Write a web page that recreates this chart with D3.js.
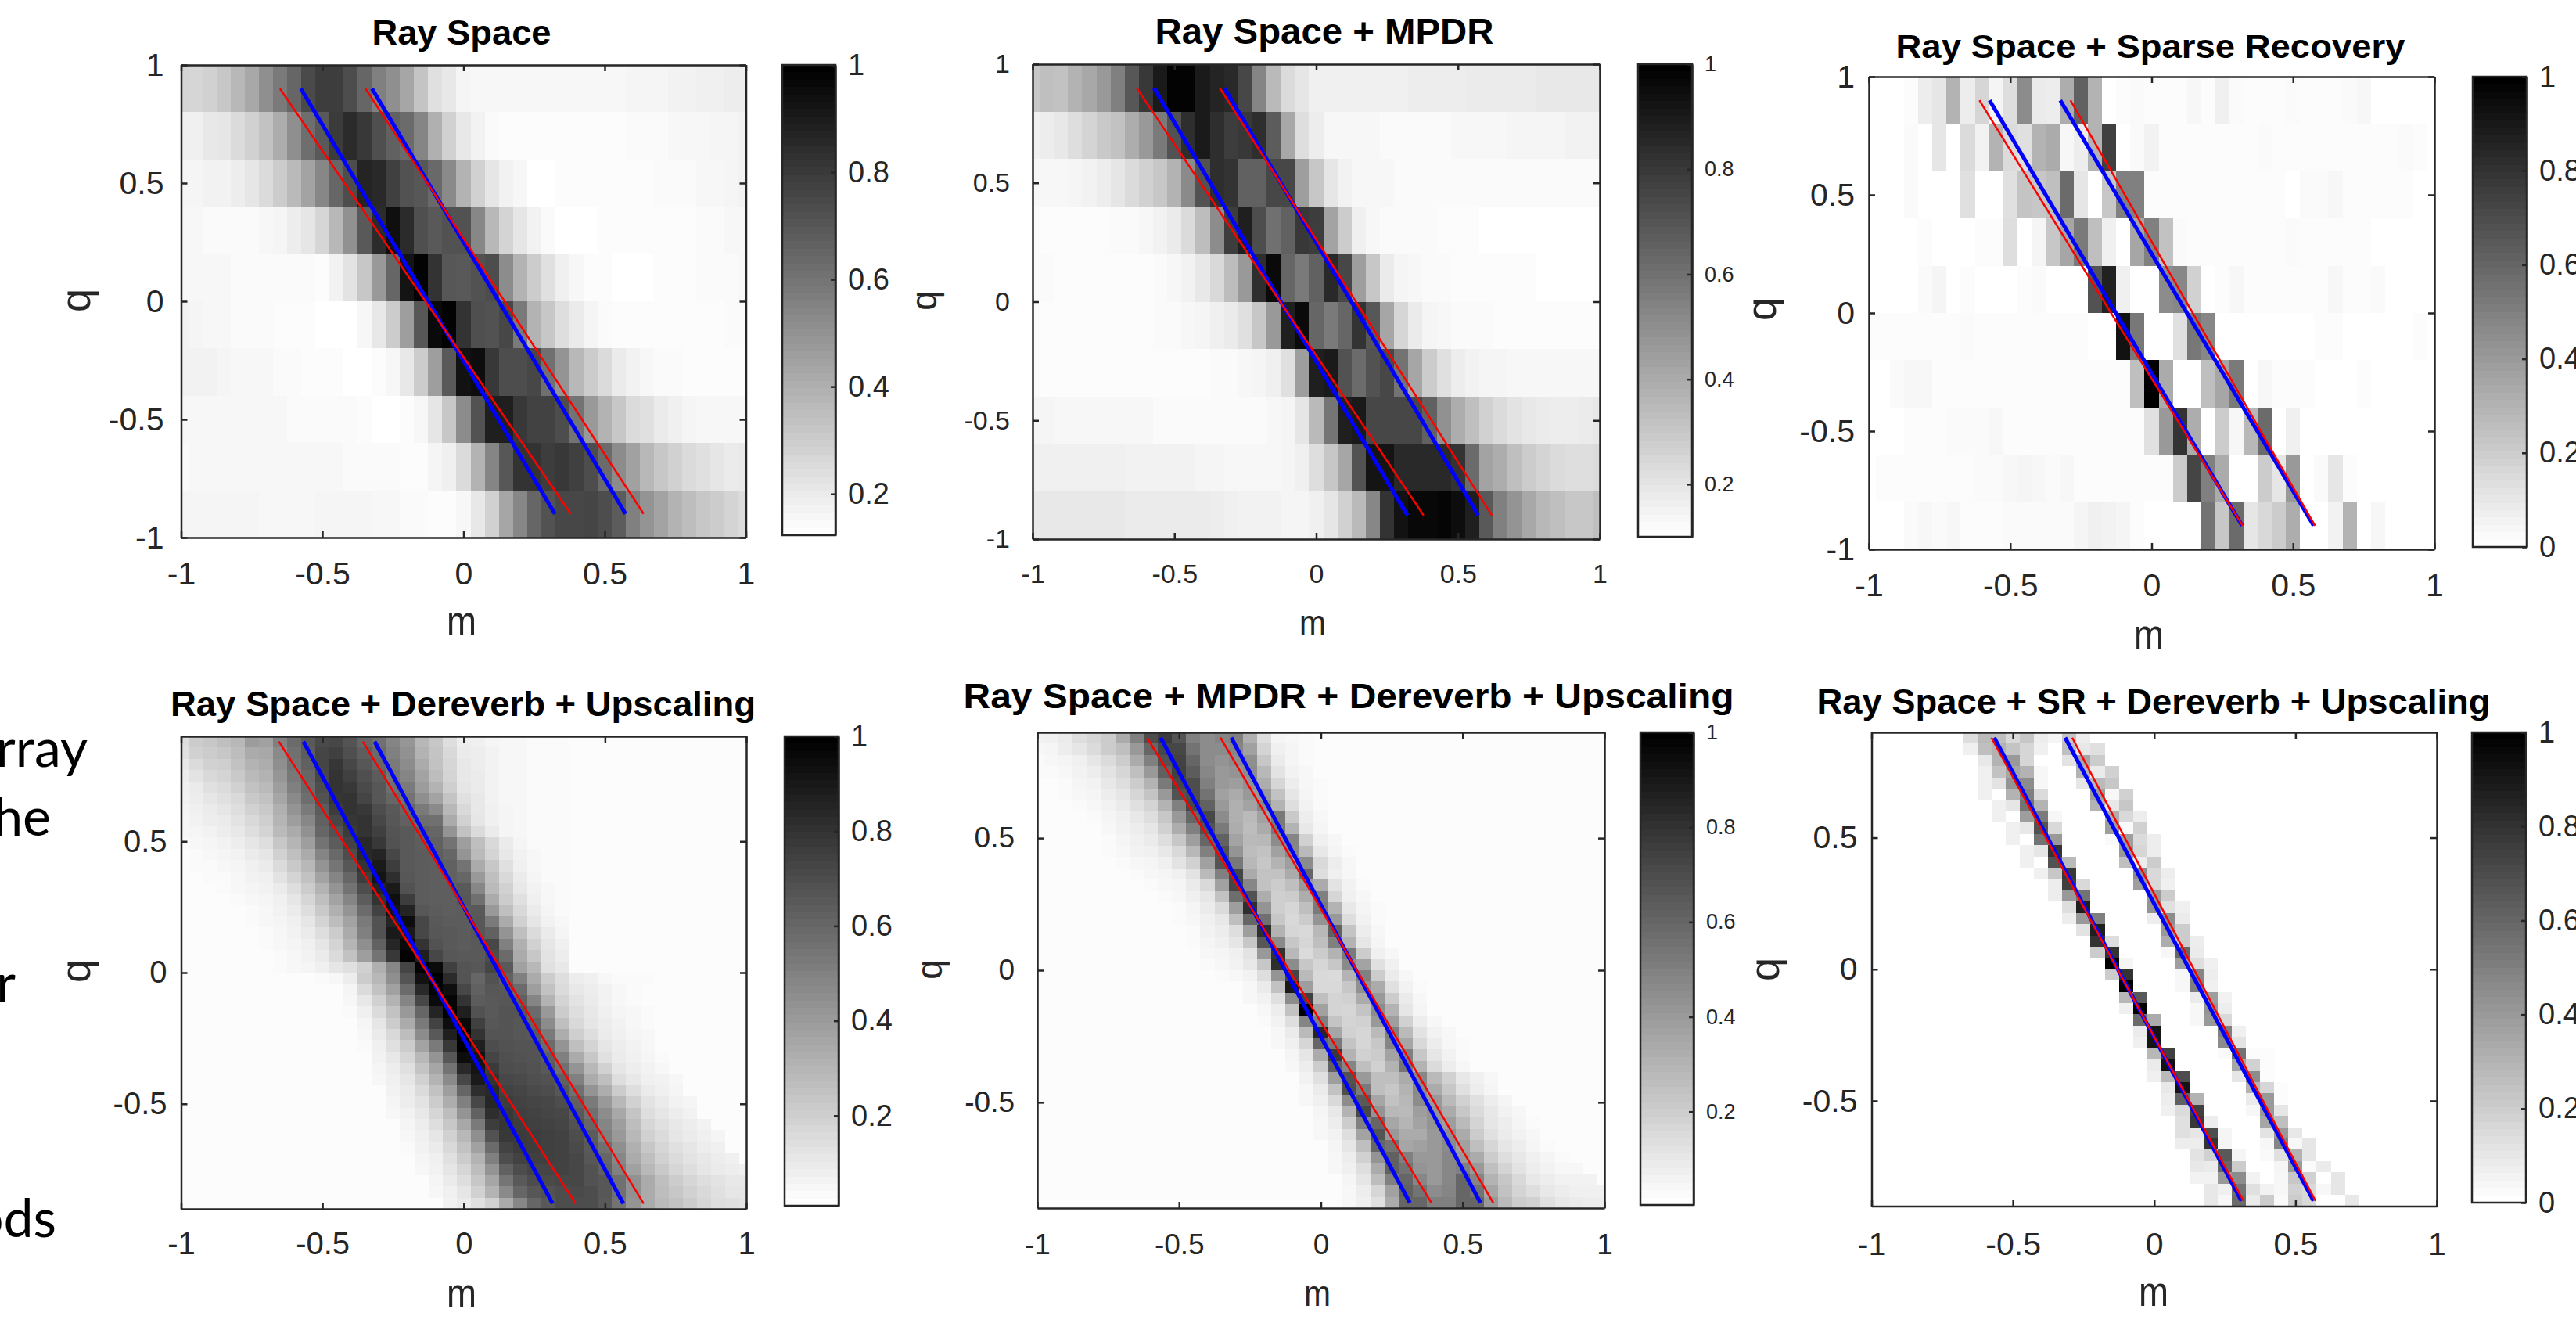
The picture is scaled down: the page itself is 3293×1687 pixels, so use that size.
<!doctype html>
<html lang="en">

<head>
    <meta charset="utf-8">
    <title>Ray space comparison</title>
    <script src="https://cdn.jsdelivr.net/npm/d3@7"></script>
    <style>
        html, body { margin: 0; padding: 0; background: #fff; }
        svg { display: block; }
        text { font-family: "Liberation Sans", Arial, sans-serif; fill: #262626; }
        .title { font-weight: bold; fill: #000; }
        .slide { font-family: Lato, "Open Sans", sans-serif; fill: #000; }
    </style>
</head>

<body>
    <svg></svg>

    <script>
        // every number below is a grey level:
        // 0 = bottom of that panel's colorbar, 100 = top of it
        var raySpace = [
            [17,16,18,22,28,34,44,52,60,71,76,76,70,60,50,44,35,23,12,9,4,3,3,3,3,3,3,3,3,3,3,3,4,4,4,5,5,6,6,7,7],
            [6,6,9,10,14,18,24,32,44,57,65,77,83,78,69,62,58,48,31,18,9,5,2,1,1,1,1,1,1,1,1,1,2,2,2,3,3,3,4,4,5],
            [4,4,5,5,7,10,14,20,27,36,47,60,70,86,84,75,68,66,59,46,30,18,10,5,3,0,0,1,1,1,1,1,1,1,2,2,2,3,3,4,5],
            [3,3,2,2,2,2,3,4,7,10,16,28,43,65,83,94,83,69,65,68,68,47,28,17,10,5,2,0,0,0,1,1,1,1,1,1,1,2,2,3,3],
            [3,3,3,3,2,2,2,2,2,2,1,5,11,22,40,60,92,99,80,66,65,68,70,45,30,20,12,6,3,1,1,0,0,0,1,1,1,2,2,2,3],
            [5,4,3,3,2,2,2,1,1,1,0,0,0,3,9,20,38,66,96,99,80,69,68,72,52,30,22,13,8,4,2,1,1,1,1,1,1,1,1,2,2],
            [5,5,5,4,3,3,3,2,2,1,1,1,0,0,1,3,9,20,38,65,93,95,78,70,70,72,56,42,28,20,14,8,5,3,2,2,1,1,1,1,1],
            [3,3,3,3,3,3,3,3,2,2,2,2,2,1,0,0,1,3,10,22,45,68,88,88,78,74,74,70,55,40,30,22,14,12,8,6,4,3,3,3,3],
            [2,3,3,3,3,3,3,3,3,3,3,3,2,2,2,2,1,1,4,6,14,30,48,66,80,80,76,78,75,70,58,45,37,28,22,18,14,12,10,8,9],
            [4,4,4,4,4,4,3,3,3,3,4,4,4,4,3,3,2,2,1,1,3,9,18,35,47,60,68,72,72,73,70,64,50,42,36,30,26,22,20,17,14]
        ];

        var mpdr = [
            [22,25,24,30,34,40,50,66,78,90,99,99,90,86,84,72,48,27,14,10,6,6,6,6,6,6,6,7,7,7,7,8,8,8,8,8,9,9,9,9,9],
            [6,7,9,13,17,21,24,32,40,52,68,82,90,82,76,78,82,64,34,13,7,3,3,3,3,2,2,2,2,2,3,3,3,3,4,4,4,4,5,5,5],
            [3,3,3,4,5,7,10,14,18,22,30,46,68,82,80,62,62,72,72,38,22,10,5,3,3,3,2,2,2,2,2,2,2,2,2,2,2,2,2,2,2],
            [2,1,1,1,1,1,2,2,3,5,8,14,26,45,76,88,70,56,62,78,76,36,20,6,3,2,2,2,2,1,1,1,0,0,0,0,0,0,0,0,0],
            [2,2,1,1,1,1,1,1,1,2,3,5,9,15,26,40,82,96,60,52,62,84,72,38,22,8,4,3,2,2,1,1,1,1,1,1,0,0,0,0,0],
            [2,1,1,1,1,1,1,1,1,2,2,3,4,6,8,12,22,40,88,96,60,52,60,80,66,35,16,8,4,3,2,2,2,1,1,1,1,1,1,1,1],
            [2,1,1,1,1,1,1,1,1,1,1,1,1,2,2,3,4,6,12,38,88,90,68,58,68,72,55,35,20,12,7,5,4,4,3,3,3,3,3,3,3],
            [4,4,3,3,3,3,3,3,3,2,2,2,2,2,2,2,2,3,4,10,27,54,88,90,72,72,72,72,62,43,32,25,18,14,11,9,8,7,7,8,9],
            [6,6,6,6,6,6,6,5,5,5,5,5,4,4,3,3,3,3,4,6,13,22,35,68,92,92,84,84,84,84,80,58,36,32,25,20,17,14,13,13,14],
            [9,9,9,9,9,9,9,8,8,8,8,8,8,7,6,5,5,5,4,4,6,10,18,27,47,80,93,97,97,98,95,88,65,50,42,34,28,25,22,22,25]
        ];

        var sparseRecovery = [
            [0,0,0,1,7,10,30,7,16,4,13,45,8,7,32,62,30,0,1,2,1,1,1,3,1,6,2,1,1,1,2,1,1,1,2,3,0,0,0,0,0],
            [0,0,0,2,0,10,0,14,5,30,14,12,30,33,3,7,30,75,0,2,5,1,1,1,1,1,1,1,2,1,1,1,1,1,1,1,1,1,2,1,0],
            [0,0,0,2,0,0,0,12,0,0,12,23,22,25,58,10,0,22,50,50,1,1,1,1,1,1,1,1,1,1,0,2,2,3,1,1,1,1,1,0,0],
            [0,0,0,0,1,0,0,0,1,1,13,0,4,22,35,52,25,6,0,35,50,24,2,1,1,1,1,1,1,1,2,1,1,1,1,1,0,0,0,0,0],
            [0,0,0,0,2,4,0,1,0,0,0,1,2,0,0,0,68,87,6,0,0,45,47,18,0,1,3,1,1,1,1,1,1,3,1,1,2,0,0,0,0],
            [1,1,1,1,1,1,1,2,1,1,1,1,1,1,1,1,0,0,93,53,0,0,12,53,47,0,0,0,0,0,0,0,1,1,0,0,0,0,0,1,0],
            [0,0,2,3,3,1,1,1,1,1,1,1,1,1,1,1,1,1,1,25,100,33,0,0,25,35,52,0,3,1,1,1,0,0,0,1,0,0,0,0,0],
            [0,0,0,1,1,1,2,2,2,3,1,1,1,1,1,1,1,1,1,1,12,40,80,32,0,20,3,28,58,0,6,0,0,0,0,0,0,0,0,0,0],
            [0,1,1,1,1,1,1,1,2,2,3,4,3,2,3,1,1,1,1,1,1,1,20,73,50,33,0,0,20,10,40,0,2,10,1,0,0,0,0,0,0],
            [0,0,0,2,3,2,3,1,1,1,2,2,2,2,2,4,6,5,4,1,0,0,0,0,55,22,58,10,15,20,32,0,0,5,30,0,3,0,0,0,0]
        ];

        // upscaled panels: [first column, levels from that column on], the rest of the row is background
        var dereverb = [
            [0,[13,20,22,25,28,39,37,50,58,65,71,72,67,60,56,48,41,28,22,13,7,6,4,3,3,2,2,2]],
            [0,[12,18,20,22,26,33,34,46,56,64,73,75,69,63,58,50,43,30,23,15,8,7,5,3,3,2,2,2]],
            [0,[9,14,18,19,24,30,32,44,55,62,73,79,72,66,60,52,45,33,24,16,9,7,5,3,3,2,2,2]],
            [0,[7,11,15,17,21,27,30,41,53,60,72,80,75,69,64,54,48,36,26,17,9,8,5,3,3,2,2,2]],
            [0,[6,8,12,14,18,24,27,38,50,59,70,80,78,71,66,57,52,39,30,19,10,8,5,3,3,2,2,2]],
            [0,[5,7,10,12,15,21,24,35,46,57,68,79,80,73,66,60,55,44,36,23,12,9,5,3,3,2,2,2]],
            [0,[4,6,8,10,13,18,21,31,42,52,64,76,80,78,70,65,60,52,46,28,15,9,6,4,3,2,2,2]],
            [0,[3,5,7,8,11,15,19,29,38,47,62,72,79,80,72,66,62,57,56,33,18,10,6,4,3,2,2,2]],
            [0,[3,4,5,7,9,13,17,27,33,43,60,68,77,80,75,67,65,62,60,42,24,14,8,4,3,2,2,2]],
            [0,[2,3,4,5,7,10,13,22,29,38,55,64,74,84,78,68,65,63,62,55,38,25,15,8,4,2,2,2]],
            [0,[1,2,3,4,5,8,10,18,25,33,48,59,70,84,86,72,65,64,63,60,42,27,17,9,5,3,2,2]],
            [0,[1,2,2,3,4,6,8,14,21,28,42,54,66,80,90,76,65,64,63,62,55,33,22,12,6,3,2,2]],
            [0,[1,1,2,2,3,5,6,11,17,24,36,48,60,76,92,82,66,64,63,62,60,40,25,15,8,4,2,2]],
            [0,[1,1,1,2,3,4,5,8,13,20,30,42,55,70,86,90,68,64,63,63,65,47,27,18,9,5,3,2]],
            [0,[1,1,1,1,2,3,4,6,10,16,25,36,48,64,80,94,76,64,63,63,66,56,33,20,12,6,3,2]],
            [0,[1,1,1,1,1,2,3,5,8,13,21,31,42,58,74,92,86,66,64,63,64,65,40,25,15,8,4,2]],
            [0,[1,1,1,1,1,2,3,4,6,10,17,26,36,52,68,86,95,72,65,64,64,66,52,33,18,10,5,3]],
            [0,[1,1,1,1,1,1,2,3,5,8,13,20,33,50,68,90,90,72,66,65,64,66,62,42,25,14,8,4]],
            [0,[1,1,1,1,1,1,2,3,4,6,10,17,29,44,62,85,96,80,68,65,64,65,72,50,31,18,10,6]],
            [0,[1,1,1,1,1,1,1,2,3,5,8,14,24,38,55,78,99,88,72,66,65,65,70,58,33,22,11,7]],
            [0,[1,1,1,1,1,1,1,2,3,4,6,10,12,18,31,47,73,100,96,75,67,66,73,65,37,28,12,9]],
            [9,[1,2,3,7,20,28,44,67,93,100,83,67,60,68,62,50,33,20,13,7,6,3,2,2,2]],
            [12,[4,14,24,37,58,84,99,94,72,62,66,65,58,38,24,14,9,7,5,3,2]],
            [12,[3,9,18,30,48,72,96,98,80,64,65,66,62,48,30,17,11,8,5,3,2]],
            [12,[2,6,14,24,40,60,86,100,88,68,65,67,67,58,40,20,13,9,6,4,3,2]],
            [13,[4,10,20,33,52,74,95,96,75,66,67,66,62,45,25,15,10,7,5,3,2]],
            [13,[3,8,15,26,45,65,88,99,80,67,67,66,65,52,32,19,13,8,6,4,3]],
            [13,[2,6,12,20,36,52,78,100,88,70,68,67,67,58,42,25,17,10,7,5,3]],
            [14,[5,9,16,28,42,66,95,92,73,69,68,67,63,50,33,22,12,8,6,4,2]],
            [14,[4,7,12,23,35,55,84,92,77,70,69,68,65,56,42,28,18,10,7,5,3]],
            [14,[3,6,10,18,30,46,72,90,80,72,71,69,68,62,50,33,25,13,9,6,5,3]],
            [15,[5,8,14,24,38,60,82,84,74,73,71,70,66,56,42,32,20,13,8,6,4]],
            [15,[4,7,11,20,32,50,72,85,76,74,73,72,70,62,52,40,28,18,11,8,5,4]],
            [15,[3,5,9,16,26,42,62,82,78,75,74,73,72,65,56,45,34,23,13,10,7,5]],
            [16,[4,7,13,22,34,52,76,79,76,75,74,73,68,60,48,38,26,16,12,9,7,5]],
            [16,[3,6,10,18,28,44,68,78,77,76,75,74,70,64,50,40,28,18,14,10,8,6,4]],
            [16,[2,5,8,15,24,37,58,74,77,76,75,74,71,65,56,44,31,22,16,12,10,7,6]],
            [17,[4,6,12,20,30,50,70,74,75,75,74,72,66,60,47,33,25,18,14,11,9,7,6]],
            [17,[3,5,10,16,26,42,62,70,73,73,74,72,68,62,50,37,28,21,16,13,10,8,7,6]],
            [18,[4,8,13,22,35,54,65,70,71,72,72,68,66,56,43,33,25,20,16,13,11,9,9]],
            [18,[3,6,10,18,30,46,60,66,68,70,71,70,66,56,43,33,26,22,18,15,12,10,10]],
            [19,[5,8,12,18,33,47,60,65,70,70,70,65,55,42,33,27,24,20,16,13,12,11]]
        ];

        var mpdrDereverb = [
            [0,[5,6,8,13,16,20,33,50,70,77,67,50,45,48,50,31,13,4,3,2]],
            [0,[3,4,7,10,14,20,25,40,60,72,72,55,45,45,48,37,17,6,4,2]],
            [0,[2,3,4,6,10,14,20,33,50,68,74,60,45,42,45,44,22,8,4,2]],
            [0,[2,2,3,5,7,11,16,25,40,62,75,64,47,40,42,45,28,11,5,3]],
            [0,[1,1,2,4,5,9,13,20,30,52,72,70,50,40,38,43,32,16,7,3,2]],
            [0,[1,1,2,3,4,7,10,16,23,40,68,70,55,37,33,40,40,24,10,4,2]],
            [0,[1,1,1,2,3,5,8,12,17,30,50,72,62,40,31,36,46,30,13,5,2]],
            [0,[1,1,1,1,2,4,6,9,13,22,40,60,72,45,31,27,37,53,21,7,3]],
            [0,[1,1,1,1,1,3,5,7,10,18,32,50,68,52,32,26,33,52,30,9,4]],
            [0,[1,1,1,1,1,2,4,6,8,13,22,38,60,62,36,27,28,45,48,18,6,3]],
            [0,[1,1,1,1,1,2,3,5,6,9,15,28,50,68,42,26,24,37,47,27,9,4,2]],
            [0,[1,1,1,1,1,1,2,3,4,6,11,18,37,67,53,28,22,30,38,45,15,7,3]],
            [0,[1,1,1,1,1,1,1,2,3,4,6,11,27,50,73,33,24,24,33,60,13,6,3]],
            [8,[2,3,4,8,15,37,73,47,24,20,25,40,33,11,5,2]],
            [9,[2,3,6,10,24,57,68,32,19,20,32,50,16,6,3]],
            [10,[2,4,8,14,38,82,42,19,16,25,52,30,9,4,2]],
            [10,[2,3,6,9,25,60,56,22,15,20,42,40,13,5,2]],
            [11,[2,5,7,13,38,82,30,16,15,28,62,23,7,3]],
            [11,[2,4,6,10,22,66,46,22,16,25,50,30,10,4]],
            [12,[3,4,6,11,40,80,28,14,20,30,52,20,6,3]],
            [12,[2,3,5,9,22,82,45,22,16,22,46,36,12,6]],
            [13,[2,3,5,13,42,73,27,15,14,30,50,20,8,3]],
            [15,[3,8,24,90,38,15,15,22,43,33,12,5,2]],
            [15,[3,5,12,45,75,25,17,18,33,40,20,8,3]],
            [16,[3,7,24,100,37,17,16,23,45,30,10,4]],
            [16,[2,5,13,48,50,23,17,18,40,38,18,7,3]],
            [17,[3,8,27,85,35,18,16,27,50,27,11,5,3]],
            [17,[3,6,16,60,52,23,16,22,48,35,15,7,3,2]],
            [18,[4,10,33,78,30,18,20,36,50,22,10,5,2]],
            [18,[3,7,20,62,48,25,18,30,54,30,14,7,3]],
            [19,[5,12,38,68,40,25,25,33,47,27,18,9,6,3]],
            [19,[3,8,24,70,52,25,22,30,46,33,22,12,7,4]],
            [19,[3,6,15,45,65,35,24,28,45,40,27,18,12,7,4]],
            [20,[4,9,30,72,42,28,27,38,42,33,22,14,9,5,3]],
            [20,[3,7,20,50,60,35,29,36,42,38,27,17,10,7,4,2]],
            [20,[3,5,13,36,67,40,33,33,40,44,33,20,12,8,5,3]],
            [21,[4,10,25,60,55,35,37,40,46,37,25,16,10,7,4,2]],
            [21,[3,7,18,42,62,50,40,40,47,40,33,20,13,9,6,4,2]],
            [21,[3,6,13,33,62,55,42,40,47,50,40,25,17,11,7,5,3,3]],
            [22,[4,10,26,50,60,47,40,47,60,48,30,22,15,9,7,5,5,5]],
            [22,[3,7,16,37,62,55,45,48,60,55,35,24,17,13,9,7,6,6,6]],
            [22,[3,6,12,33,60,60,50,50,60,60,40,27,20,18,12,9,8,7,7]]
        ];

        var srDereverb = [
            [7,[13,27,25,15,22,7,4,22,7]],
            [7,[6,25,30,23,16,6,0,25,9,12]],
            [8,[9,30,40,16,0,0,11,35,20]],
            [8,[6,24,35,30,3,0,0,30,8,18]],
            [8,[6,11,42,45,3,0,0,10,27,22]],
            [8,[6,0,30,50,14,0,0,0,38,3,18]],
            [9,[6,10,55,30,0,0,0,30,9,22]],
            [9,[6,0,38,52,3,0,0,0,32,15,7]],
            [10,[6,9,68,15,0,0,0,38,2,18]],
            [10,[6,0,55,40,0,0,0,2,38,14,7]],
            [11,[6,10,80,0,0,0,0,40,16,7]],
            [11,[6,0,68,27,0,0,0,25,7,20]],
            [12,[6,22,78,0,0,0,0,45,15,7]],
            [13,[7,75,15,0,0,0,38,15,6]],
            [13,[7,40,55,0,0,0,0,40,20]],
            [14,[13,88,0,0,0,0,42,12,6]],
            [14,[7,40,50,0,0,0,7,45,8]],
            [15,[11,88,0,0,0,0,40,20]],
            [16,[80,13,0,0,0,32,20,7]],
            [16,[20,80,0,0,0,3,60,8]],
            [17,[100,4,0,0,0,38,13,6]],
            [17,[20,80,0,0,0,3,48,7]],
            [18,[100,0,0,0,3,50,6]],
            [18,[28,65,0,0,0,8,38,5]],
            [18,[6,100,0,0,0,3,42,7]],
            [19,[58,33,0,0,3,40,15]],
            [19,[8,92,0,0,0,0,50,6]],
            [19,[6,92,0,0,0,0,45,11]],
            [20,[28,75,0,0,0,2,55,1,1]],
            [20,[8,93,0,0,0,0,35,18,1]],
            [20,[6,27,70,0,0,0,10,45,1]],
            [21,[9,92,0,0,0,0,30,16,1]],
            [21,[7,62,30,0,0,0,8,40,1]],
            [21,[6,14,75,0,0,0,3,40,10]],
            [22,[12,78,7,0,0,0,35,25]],
            [22,[12,10,70,4,0,0,11,40,9]],
            [22,[7,7,80,4,0,0,3,48,3,10]],
            [23,[11,18,65,4,0,2,12,30,10]],
            [23,[9,8,60,20,0,0,4,40,2,8]],
            [23,[5,5,40,45,5,0,3,22,18,0,10]],
            [24,[9,6,55,12,5,3,18,15,3,10]],
            [24,[9,3,58,8,20,2,20,15,0,0,9]]
        ];

        var titles = [
            'Ray Space', 'Ray Space + MPDR', 'Ray Space + Sparse Recovery',
            'Ray Space + Dereverb + Upscaling', 'Ray Space + MPDR + Dereverb + Upscaling', 'Ray Space + SR + Dereverb + Upscaling'
        ];
        var xTickValues = [-1, -0.5, 0, 0.5, 1];
        var yTickCoarse = [-1, -0.5, 0, 0.5, 1];
        var yTickFine = [-0.5, 0, 0.5];

        // colorbar lower limits and tick labels
        var colorMin = [0.123, 0.1, 0, 0.01, 0.003, 0];
        var barTicksTrim = [0.2, 0.4, 0.6, 0.8, 1];
        var barTicksFull = [0, 0.2, 0.4, 0.6, 0.8, 1];

        // [m at top, m at bottom] of each drawn line
        var blueLines = [
            [[-0.576, 0.324], [-0.324, 0.574]], [[-0.572, 0.322], [-0.324, 0.572]], [[-0.573, 0.32], [-0.323, 0.573]],
            [[-0.567, 0.315], [-0.315, 0.565]], [[-0.565, 0.314], [-0.316, 0.563]], [[-0.566, 0.309], [-0.315, 0.564]]
        ];
        var redLines = [
            [[-0.65, 0.38], [-0.347, 0.638]], [[-0.633, 0.379], [-0.34, 0.62]], [[-0.609, 0.322], [-0.287, 0.578]],
            [[-0.654, 0.396], [-0.357, 0.637]], [[-0.613, 0.39], [-0.354, 0.608]], [[-0.576, 0.316], [-0.29, 0.571]]
        ];
        var lineEndQ = [0.9, 0.9, 0.9, 0.88, 0.88, 0.88];

        var slideLines = [
            { text: 'rray', right: 112, base: 980 },
            { text: 'he', right: 65, base: 1068 },
            { text: 'r', right: 20, base: 1280 },
            { text: 'ods', right: 72, base: 1581 }
        ];

        function expand(rows, fill) {
            return rows.map(function (r) {
                var row = d3.range(41).map(function () { return fill; });
                r[1].forEach(function (v, i) { row[r[0] + i] = v; });
                return row;
            });
        }

        var matrices = [
            raySpace, mpdr, sparseRecovery,
            expand(dereverb, 1), expand(mpdrDereverb, 1), expand(srDereverb, 0)
        ];

        // layout in page pixels, one entry per panel
        var layout = [
            { l: 231.5, r: 953.5, t: 83, b: 687, cbL: 1000, cbR: 1068, cbB: 684, tickFs: 41, cbFs: 38, padX: 31, padY: 22, title: [590, 57, 229, 44], m: [590, 812, 54, 38], q: [115, 384, 54], edgeQ: 1 },
            { l: 1320, r: 2045, t: 82, b: 689, cbL: 2094, cbR: 2163, cbB: 686, tickFs: 34, cbFs: 27, padX: 32, padY: 29, title: [1693, 56, 433, 46], m: [1678, 812, 46, 34], q: [1197, 384, 46], edgeQ: 1 },
            { l: 2389, r: 3112, t: 98, b: 702, cbL: 3161, cbR: 3230, cbB: 699, tickFs: 41, cbFs: 38, padX: 31, padY: 18, title: [2749, 74, 651, 43], m: [2747, 829, 54, 38], q: [2270, 395, 54], edgeQ: 1 },
            { l: 231.5, r: 954, t: 941, b: 1545, cbL: 1003, cbR: 1072, cbB: 1541, tickFs: 40, cbFs: 38, padX: 30, padY: 18, title: [592, 915, 748, 44], m: [590, 1671, 54, 38], q: [115, 1241, 54], edgeQ: 0.9 },
            { l: 1326, r: 2051, t: 936, b: 1544, cbL: 2097, cbR: 2165, cbB: 1540, tickFs: 37, cbFs: 27, padX: 33, padY: 29, title: [1724, 905, 985, 45], m: [1684, 1669, 46, 34], q: [1204, 1239, 46], edgeQ: 0.9 },
            { l: 2392.5, r: 3115, t: 936, b: 1541.5, cbL: 3160, cbR: 3229, cbB: 1537, tickFs: 41, cbFs: 38, padX: 33, padY: 18, title: [2753, 912, 861, 44], m: [2753, 1669, 54, 38], q: [2274, 1239, 54], edgeQ: 0.9 }
        ];

        var svg = d3.select('svg').attr('width', 3293).attr('height', 1687);
        svg.append('rect').attr('width', 3293).attr('height', 1687).attr('fill', '#fff');

        var grey = d3.scaleLinear().domain([0, 100]).range(['#ffffff', '#000000']);
        var axisColor = '#262626';

        function styleAxis(g, width) {
            g.selectAll('path').attr('stroke', axisColor).attr('stroke-width', width);
            g.selectAll('line').attr('stroke', axisColor).attr('stroke-width', width);
        }

        layout.forEach(function (p, i) {
            var g = svg.append('g');
            var data = matrices[i];
            var x = d3.scaleLinear().domain([-1, 1]).range([p.l, p.r]).clamp(true);
            var y = d3.scaleLinear().domain([-p.edgeQ, p.edgeQ]).range([p.b, p.t]).clamp(true);
            var rowHeight = 2 * p.edgeQ / data.length;

            // cells, columns are centred on multiples of 0.05 so the outer two are cut in half
            data.forEach(function (row, r) {
                var qTop = p.edgeQ - r * rowHeight;
                g.append('g').selectAll('rect')
                    .data(row)
                    .enter()
                    .append('rect')
                    .attr('x', function (d, j) { return x(-1 + j * 0.05 - 0.025); })
                    .attr('y', y(qTop))
                    .attr('width', function (d, j) { return x(-1 + j * 0.05 + 0.025) - x(-1 + j * 0.05 - 0.025); })
                    .attr('height', y(qTop - rowHeight) - y(qTop))
                    .attr('fill', function (d) { return grey(d); })
                    .attr('shape-rendering', 'crispEdges');
            });

            // the two pairs of lines, red goes over blue
            [[blueLines[i], '#0000ff', 5], [redLines[i], '#ff0000', 2.5]].forEach(function (s) {
                s[0].forEach(function (ends) {
                    g.append('line')
                        .attr('x1', x(ends[0])).attr('y1', y(lineEndQ[i]))
                        .attr('x2', x(ends[1])).attr('y2', y(-lineEndQ[i]))
                        .attr('stroke', s[1])
                        .attr('stroke-width', s[2]);
                });
            });

            var yTicks = p.edgeQ === 1 ? yTickCoarse : yTickFine;
            var fmt = function (d) { return String(d); };
            var tick = 8;

            var bottom = g.append('g').attr('transform', 'translate(0,' + p.b + ')')
                .call(d3.axisBottom(x).tickValues(xTickValues).tickFormat(fmt).tickSizeInner(-tick).tickSizeOuter(0).tickPadding(p.padX));
            var top = g.append('g').attr('transform', 'translate(0,' + p.t + ')')
                .call(d3.axisTop(x).tickValues(xTickValues).tickFormat('').tickSizeInner(-tick).tickSizeOuter(0));
            var left = g.append('g').attr('transform', 'translate(' + p.l + ',0)')
                .call(d3.axisLeft(y).tickValues(yTicks).tickFormat(fmt).tickSizeInner(-tick).tickSizeOuter(0).tickPadding(p.padY));
            var right = g.append('g').attr('transform', 'translate(' + p.r + ',0)')
                .call(d3.axisRight(y).tickValues(yTicks).tickFormat('').tickSizeInner(-tick).tickSizeOuter(0));
            [bottom, top, left, right].forEach(function (a) { styleAxis(a, 2.5); });
            [bottom, left].forEach(function (a) {
                a.selectAll('text').style('font-size', p.tickFs + 'px').attr('fill', axisColor);
            });

            // title stretched to the measured width of the original
            g.append('text').attr('class', 'title')
                .attr('x', p.title[0]).attr('y', p.title[1])
                .attr('text-anchor', 'middle')
                .attr('textLength', p.title[2]).attr('lengthAdjust', 'spacingAndGlyphs')
                .style('font-size', p.title[3] + 'px')
                .text(titles[i]);

            // the original figures were squeezed sideways, so m is narrower than its height
            g.append('text').attr('x', p.m[0]).attr('y', p.m[1]).attr('text-anchor', 'middle')
                .attr('textLength', p.m[3]).attr('lengthAdjust', 'spacingAndGlyphs')
                .style('font-size', p.m[2] + 'px').text('m');
            g.append('text').attr('text-anchor', 'middle')
                .attr('transform', 'translate(' + p.q[0] + ',' + p.q[1] + ') rotate(-90)')
                .style('font-size', p.q[2] + 'px').text('q');

            // colorbar
            var cb = d3.scaleLinear().domain([colorMin[i], 1]).range([p.cbB, p.t]);
            var steps = d3.range(64);
            g.append('g').selectAll('rect')
                .data(steps)
                .enter()
                .append('rect')
                .attr('x', p.cbL)
                .attr('width', p.cbR - p.cbL)
                .attr('y', function (d) { return p.t + d * (p.cbB - p.t) / 64; })
                .attr('height', (p.cbB - p.t) / 64 + 0.5)
                .attr('fill', function (d) { return grey(100 - d * 100 / 63); })
                .attr('shape-rendering', 'crispEdges');
            var barTicks = colorMin[i] === 0 ? barTicksFull : barTicksTrim;
            var barAxis = g.append('g').attr('transform', 'translate(' + p.cbR + ',0)')
                .call(d3.axisRight(cb).tickValues(barTicks).tickFormat(fmt).tickSizeInner(-6).tickSizeOuter(0).tickPadding(16));
            styleAxis(barAxis, 2.5);
            barAxis.selectAll('text').style('font-size', p.cbFs + 'px').attr('fill', axisColor);
            g.append('rect')
                .attr('x', p.cbL).attr('y', p.t)
                .attr('width', p.cbR - p.cbL).attr('height', p.cbB - p.t)
                .attr('fill', 'none').attr('stroke', axisColor).attr('stroke-width', 2.5);
        });

        // what is left of the slide text behind the figure
        svg.selectAll('.slide')
            .data(slideLines)
            .enter()
            .append('text')
            .attr('class', 'slide')
            .attr('x', function (d) { return d.right; })
            .attr('y', function (d) { return d.base; })
            .attr('text-anchor', 'end')
            .style('font-size', '68px')
            .text(function (d) { return d.text; });
    </script>

</body>

</html>
